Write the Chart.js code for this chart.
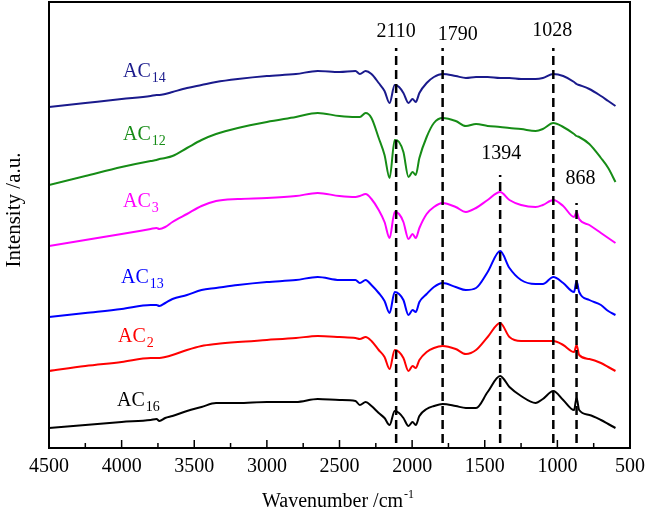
<!DOCTYPE html>
<html>
<head>
<meta charset="utf-8">
<script src="https://cdn.jsdelivr.net/npm/chart.js@4.4.1/dist/chart.umd.min.js"></script>
<style>
body { margin: 0; background: #fff; }
#wrap { width: 646px; height: 516px; }
</style>
</head>
<body>
<div id="wrap"><canvas id="ftirChart"></canvas></div>
<script>
// wavenumber grid (cm-1) shared by all spectra
var wavenumbers = [4500, 4250, 4000, 3800, 3760, 3740, 3700, 3650, 3550, 3450,
    3350, 3200, 3000, 2800, 2650, 2500, 2390, 2360, 2320, 2280,
    2230, 2190, 2155, 2120, 2090, 2060, 2025, 1997, 1975, 1950,
    1900, 1850, 1790, 1700, 1630, 1560, 1480, 1394, 1330, 1250,
    1150, 1100, 1028, 960, 885, 868, 850, 780, 700, 650, 600];

// stacked intensities (a.u., offset per sample)
var ac14 = [341, 345, 349, 352, 353, 353, 354, 356, 360, 363,
    366, 369, 372, 374, 377, 376, 377, 374, 377, 374,
    365, 357, 345, 363, 361, 355, 345, 349, 346, 355,
    365, 371, 374, 372, 370, 371, 371, 370, 370, 369,
    369, 370, 374, 372, 366, 364, 363, 359, 352, 347, 342];
var ac12 = [263, 272, 281, 287, 288, 289, 290, 292, 300, 308,
    314, 320, 326, 331, 335, 332, 331, 331, 335, 330,
    310, 293, 270, 308, 306, 296, 271, 276, 273, 290,
    311, 325, 330, 327, 322, 324, 322, 321, 320, 319,
    317, 319, 325, 321, 314, 312, 311, 304, 290, 280, 266];
var ac3 = [202, 208, 214, 219, 220, 219, 221, 226, 234, 242,
    247, 249, 250, 252, 255, 252, 251, 252, 254, 249,
    238, 226, 210, 236, 234, 226, 209, 214, 210, 220,
    234, 241, 245, 241, 236, 240, 248, 256, 248, 243,
    241, 243, 248, 242, 231, 236, 229, 223, 215, 210, 205];
var ac13 = [131, 135, 139, 143, 143, 142, 145, 149, 153, 158,
    160, 163, 166, 168, 171, 168, 168, 165, 168, 163,
    155, 147, 135, 156, 154, 148, 133, 138, 136, 146,
    154, 161, 165, 161, 158, 160, 176, 197, 180, 168,
    164, 164, 171, 165, 156, 167, 156, 148, 143, 137, 133];
var ac2 = [77, 82, 86, 90, 90, 90, 91, 93, 98, 102,
    104, 106, 108, 110, 112, 111, 110, 109, 111, 107,
    98, 91, 79, 98, 96, 90, 77, 82, 80, 88,
    96, 100, 102, 99, 94, 98, 111, 125, 111, 107,
    107, 107, 107, 103, 96, 103, 93, 89, 85, 81, 77];
var ac16 = [20, 23, 26, 28, 29, 27, 30, 32, 37, 41,
    45, 45, 46, 46, 49, 48, 47, 43, 46, 42,
    35, 30, 23, 37, 35, 30, 22, 26, 23, 32,
    39, 42, 44, 42, 40, 40, 56, 72, 61, 52,
    45, 49, 57, 48, 38, 50, 38, 33, 28, 24, 20];

var sampleNames = ['14', '12', '3', '13', '2', '16'];
var sampleData = [ac14, ac12, ac3, ac13, ac2, ac16];
var sampleColors = ['#1a1a8c', '#168c16', '#ff00ff', '#0000ff', '#ff0000', '#000000'];

// marked bands and how high their dashed lines reach
var peakWavenumbers = [2110, 1790, 1394, 1028, 868];
var peakTops = [400, 400, 273, 400, 245];
var peakBottom = 5;

var serif = '"Liberation Serif", "Times New Roman", serif';

function toPoints(ys) {
    return ys.map(function (y, i) { return { x: wavenumbers[i], y: y }; });
}

var datasets = [];
peakWavenumbers.forEach(function (w, i) {
    datasets.push({
        data: [{ x: w, y: peakBottom }, { x: w, y: peakTops[i] }],
        borderColor: '#000',
        borderWidth: 2.5,
        borderDash: [9, 5],
        pointRadius: 0,
        tension: 0
    });
});
sampleData.forEach(function (ys, i) {
    datasets.push({
        label: 'AC' + sampleNames[i],
        data: toPoints(ys),
        borderColor: sampleColors[i],
        borderWidth: 2,
        pointRadius: 0,
        cubicInterpolationMode: 'monotone'
    });
});

// label spots (px) for the sample names and the band numbers
var nameSpots = [[123, 77], [123, 140], [123, 207], [121, 283], [118, 342], [117, 406]];
var peakLabelShift = [[0, 37], [15, 40], [1, 159], [-1, 36], [4, 184]];

var decorPlugin = {
    id: 'decor',
    afterDraw: function (chart) {
        var ctx = chart.ctx, a = chart.chartArea, xs = chart.scales.x;
        ctx.save();
        ctx.strokeStyle = '#000';
        ctx.lineWidth = 2;
        ctx.strokeRect(a.left, a.top, a.right - a.left, a.bottom - a.top);

        // inward ticks on the bottom axis
        ctx.lineWidth = 1.5;
        for (var v = 500; v <= 4500; v += 250) {
            var px = xs.getPixelForValue(v);
            var len = v % 500 === 0 ? 8 : 5;
            ctx.beginPath();
            ctx.moveTo(px, a.bottom);
            ctx.lineTo(px, a.bottom - len);
            ctx.stroke();
        }

        // band numbers
        ctx.fillStyle = '#000';
        ctx.font = '20px ' + serif;
        ctx.textAlign = 'center';
        ctx.textBaseline = 'alphabetic';
        peakWavenumbers.forEach(function (w, i) {
            ctx.fillText(String(w), xs.getPixelForValue(w) + peakLabelShift[i][0], peakLabelShift[i][1]);
        });

        // sample names with subscripts
        ctx.textAlign = 'left';
        sampleNames.forEach(function (n, i) {
            var x = nameSpots[i][0], y = nameSpots[i][1];
            ctx.fillStyle = sampleColors[i];
            ctx.font = '20px ' + serif;
            ctx.fillText('AC', x, y);
            var w = ctx.measureText('AC').width;
            ctx.font = '14px ' + serif;
            ctx.fillText(n, x + w + 1, y + 5);
        });

        // axis titles
        ctx.fillStyle = '#000';
        ctx.font = '20px ' + serif;
        var t = 'Wavenumber /cm';
        var tw = ctx.measureText(t).width;
        ctx.fillText(t, 262, 507);
        ctx.font = '12px ' + serif;
        ctx.fillText('-1', 262 + tw + 1, 498);

        ctx.translate(14, 210);
        ctx.rotate(-Math.PI / 2);
        ctx.textAlign = 'center';
        ctx.textBaseline = 'middle';
        ctx.font = '21px ' + serif;
        ctx.fillText('Intensity /a.u.', 0, 0);
        ctx.restore();
    }
};

var ctx = document.getElementById('ftirChart').getContext('2d');
var ftirChart = new Chart(ctx, {
    type: 'line',
    data: { datasets: datasets },
    options: {
        responsive: true,
        maintainAspectRatio: false,
        animation: false,
        layout: { padding: { left: 49, top: 2, right: 16, bottom: 0 } },
        plugins: { legend: { display: false }, tooltip: { enabled: false } },
        scales: {
            x: {
                type: 'linear',
                reverse: true,
                min: 500,
                max: 4500,
                border: { display: false },
                grid: { display: false, drawTicks: false },
                ticks: {
                    stepSize: 500,
                    padding: 7,
                    maxRotation: 0,
                    autoSkip: false,
                    color: '#000',
                    font: { family: serif, size: 20 },
                    callback: function (v) { return String(v); }
                },
                afterFit: function (scale) {
                    scale.height = 68;
                    scale.paddingLeft = 0;
                    scale.paddingRight = 0;
                }
            },
            y: {
                display: false,
                min: 0,
                max: 446
            }
        }
    },
    plugins: [decorPlugin]
});
</script>
</body>
</html>
